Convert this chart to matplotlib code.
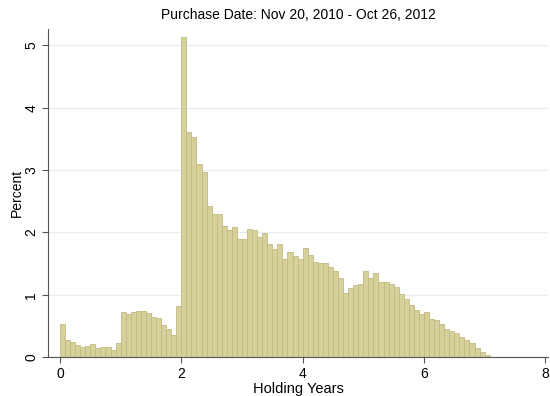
import matplotlib.pyplot as plt
import numpy as np

# Доля сделок (%) по месячным интервалам срока владения (лет)
bin_width = 1 / 12
percent = [
    0.54, 0.27, 0.25, 0.20, 0.17, 0.18, 0.21, 0.15, 0.16, 0.16, 0.11, 0.22,
    0.72, 0.69, 0.72, 0.74, 0.74, 0.71, 0.64, 0.63, 0.51, 0.45, 0.36, 0.82,
    5.13, 3.61, 3.53, 3.10, 2.97, 2.43, 2.29, 2.29, 2.11, 2.04, 2.08, 1.90,
    1.90, 2.05, 2.04, 1.93, 1.99, 1.82, 1.73, 1.81, 1.57, 1.68, 1.63, 1.57,
    1.75, 1.64, 1.53, 1.51, 1.51, 1.44, 1.38, 1.27, 1.03, 1.11, 1.15, 1.18,
    1.39, 1.27, 1.35, 1.20, 1.20, 1.18, 1.12, 1.01, 0.93, 0.84, 0.75, 0.70,
    0.72, 0.62, 0.59, 0.53, 0.46, 0.42, 0.38, 0.32, 0.28, 0.22, 0.15, 0.08,
    0.03, 0.01,
]
x_ticks = [0, 2, 4, 6, 8]
y_ticks = [0, 1, 2, 3, 4, 5]
title = "Purchase Date: Nov 20, 2010 - Oct 26, 2012"

plt.rcParams['font.family'] = ['Liberation Sans', 'DejaVu Sans']

fig = plt.figure(figsize=(5.5, 3.96), dpi=100)
ax = fig.add_axes([0.087, 0.098, 0.91, 0.83])

edges = np.arange(len(percent)) * bin_width
ax.bar(edges, percent, width=bin_width, align='edge',
       color='#D6D09A', edgecolor='#C2BA82', linewidth=0.6, zorder=2)

ax.set_xlim(-0.2, 8.05)
ax.set_ylim(0, 5.27)
ax.set_xticks(x_ticks)
ax.set_yticks(y_ticks)
ax.yaxis.grid(True, color='#E6EEF0', linewidth=0.9, zorder=0)
ax.set_axisbelow(True)

for s in ['top', 'right']:
    ax.spines[s].set_visible(False)
for s in ['left', 'bottom']:
    ax.spines[s].set_color('#555555')
    ax.spines[s].set_linewidth(0.8)

ax.tick_params(axis='both', colors='#555555', length=4, width=0.8,
               labelsize=10, labelcolor='black')
ax.tick_params(axis='x', pad=3)
ax.tick_params(axis='y', pad=8)
for lbl in ax.get_yticklabels():
    lbl.set_rotation(90)
    lbl.set_va('center')
    lbl.set_ha('center')

ax.set_xlabel("Holding Years", fontsize=10.5, labelpad=1)
ax.set_ylabel("Percent", fontsize=10, labelpad=0)
ax.set_title(title, fontsize=10, pad=7)

plt.savefig("out.png", dpi=100)
plt.close()
